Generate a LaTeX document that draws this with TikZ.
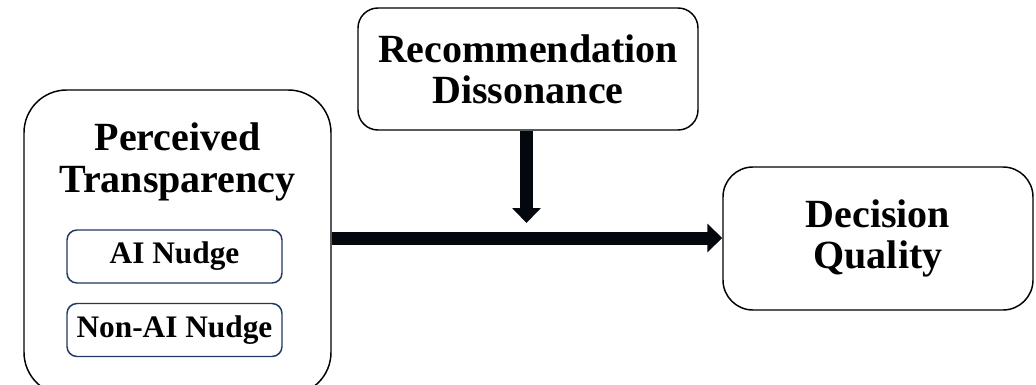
\documentclass[tikz,border=0pt]{standalone}
\usepackage{fontspec}
\setmainfont{Liberation Serif}
\usetikzlibrary{arrows.meta,calc}
\definecolor{navy}{HTML}{1F3864}
\definecolor{arrowfill}{HTML}{05070F}
\begin{document}
\begin{tikzpicture}[x=0.75pt,y=-0.75pt,
  bigbox/.style={draw=black,line width=1.1pt,fill=white,inner sep=0pt},
  nudgebox/.style={draw=navy,line width=1.1pt,fill=white,rounded corners=7.5pt,
     minimum width=161.25pt,minimum height=39.75pt,inner sep=0pt,
     font=\fontsize{23.5}{26}\selectfont\bfseries},
  bigtext/.style={align=center,font=\fontsize{30}{31}\selectfont\bfseries},
  fatarrow/.style={draw=arrowfill,line width=9.75pt,
     -{Triangle[length=11.25pt,width=21pt]}}
]
\useasboundingbox (0,0) rectangle (1036,385);
\clip (0,0) rectangle (1036,385);
% left box
\node[bigbox,rounded corners=32pt,minimum width=230.25pt,minimum height=228.75pt] (pt) at (177.5,242.5) {};
\node[bigtext] (ptlabel) at (177.5,162) {Perceived\\Transparency};
\node[nudgebox] (ai) at (174.5,256.5) {AI Nudge};
\node[nudgebox] (nonai) at (174.5,330) {Non-AI Nudge};
% recommendation
\node[bigbox,bigtext,rounded corners=15pt,minimum width=255pt,minimum height=91.5pt] (rd) at (528,69) {Recommendation\\Dissonance};
% decision
\node[bigbox,bigtext,rounded corners=22.5pt,minimum width=232.5pt,minimum height=107.25pt] (dq) at (878,238.5) {Decision\\Quality};
% arrows
\coordinate (mod) at (526.5,223);
\draw[fatarrow] (pt.east |- 0,238) -- (dq.west |- 0,238);
\draw[fatarrow] (rd.south -| mod) -- (mod);
\end{tikzpicture}
\end{document}
